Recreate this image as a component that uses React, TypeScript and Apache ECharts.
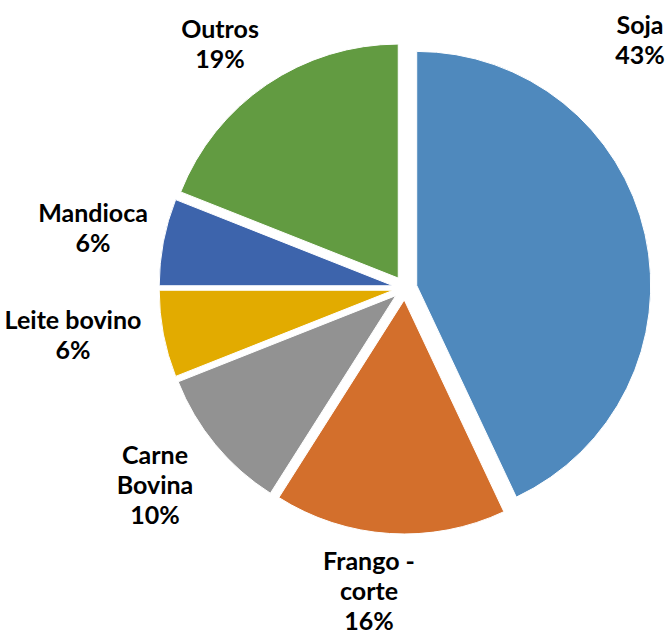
import React, { useEffect, useRef } from "react";
import * as echarts from "echarts";

const categories = ["Soja", "Frango - corte", "Carne Bovina", "Leite bovino", "Mandioca", "Outros"];
const labelLines = ["Soja", "Frango -\ncorte", "Carne\nBovina", "Leite bovino", "Mandioca", "Outros"];
const values = [43, 16, 10, 6, 6, 19];
const colors = ["#4F89BD", "#D36F2C", "#929292", "#E2AB00", "#3D64AC", "#629B41"];
// label anchor (text block centre) in px
const labelAnchors: [number, number][] = [
  [640, 39],
  [369, 590],
  [155, 484],
  [73, 334],
  [93, 227],
  [220, 43],
];

export default function App() {
  const ref = useRef<HTMLDivElement>(null);
  useEffect(() => {
    if (!ref.current) return;
    const chart = echarts.init(ref.current, null, { renderer: "svg" });
    const total = values.reduce((a, b) => a + b, 0);
    chart.setOption({
      animation: false,
      backgroundColor: "#ffffff",
      graphic: categories.map((_, i) => ({
        type: "text",
        x: labelAnchors[i][0],
        y: labelAnchors[i][1],
        silent: true,
        style: {
          text: `${labelLines[i]}\n${Math.round((values[i] / total) * 100)}%`,
          fontFamily: "Lato",
          fontWeight: "bold",
          fontSize: 25,
          lineHeight: 30,
          fill: "#000000",
          align: "center",
          verticalAlign: "middle",
        },
      })),
      series: [
        {
          type: "pie",
          center: [405, 288],
          radius: 234,
          startAngle: 90,
          clockwise: true,
          selectedMode: "multiple",
          selectedOffset: 12,
          avoidLabelOverlap: false,
          emphasis: { disabled: true },
          itemStyle: { borderColor: "#ffffff", borderWidth: 1 },
          labelLine: { show: false },
          label: { show: false },
          data: categories.map((name, i) => ({
            name,
            value: values[i],
            selected: true,
            itemStyle: { color: colors[i] },
          })),
        },
      ],
    });
    return () => chart.dispose();
  }, []);
  return (
    <div
      ref={ref}
      style={{ position: "absolute", left: 0, top: 0, width: 667, height: 636 }}
    />
  );
}
